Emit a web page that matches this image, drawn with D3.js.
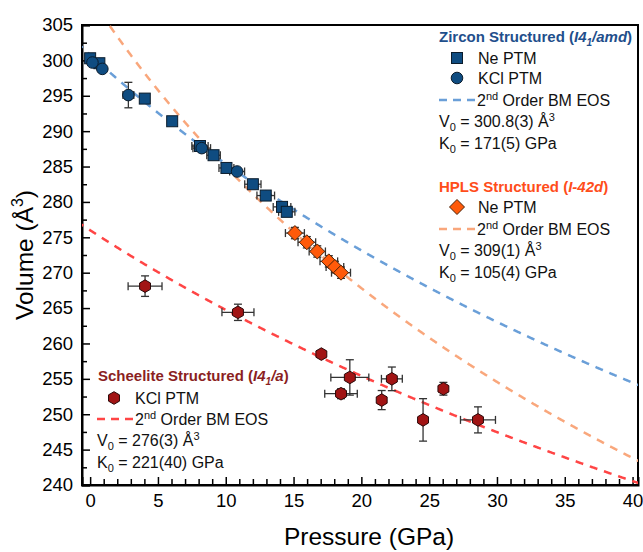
<!DOCTYPE html>
<html>
<head>
<meta charset="utf-8">
<script src="https://cdn.jsdelivr.net/npm/d3@7"></script>
<style>
  body { margin: 0; background: #fff; }
  svg { display: block; font-family: Arial, "Liberation Sans", sans-serif; }
</style>
</head>
<body>
<svg id="chart" width="643" height="552"></svg>
<script>
// Unit-cell volume vs pressure: [P (GPa), V (Å^3), dP, dV]
const zirconNe = [
  [0.0, 300.3, 0.2, 0.3], [0.68, 299.6, 0.2, 0.3], [4.03, 294.6, 0.3, 0.3],
  [6.05, 291.4, 0.3, 0.3], [8.1, 287.9, 0.6, 0.4], [9.1, 286.6, 0.5, 0.4],
  [10.05, 284.8, 0.55, 0.4], [12.0, 282.5, 0.6, 0.4], [12.95, 280.9, 0.65, 0.4],
  [14.15, 279.3, 0.65, 0.4], [14.5, 278.6, 0.6, 0.4]
];
const zirconKCl = [
  [0.17, 299.7, 0.2, 0.3], [0.9, 298.8, 0.2, 0.3], [2.82, 295.1, 0.4, 1.8],
  [8.23, 287.6, 0.65, 0.4], [10.84, 284.3, 0.55, 0.4]
];
const hplsNe = [
  [15.1, 275.6, 0.7, 0.8], [15.98, 274.3, 0.65, 0.8], [16.75, 273.0, 0.6, 0.8],
  [17.6, 271.6, 0.65, 0.8], [18.05, 270.8, 0.65, 0.8], [18.5, 270.0, 0.7, 0.8]
];
const scheeliteKCl = [
  [4.05, 268.1, 1.25, 1.45], [10.9, 264.4, 1.18, 1.15], [17.05, 258.5, 0.3, 0.4],
  [19.15, 255.2, 1.4, 2.5], [18.5, 252.9, 1.2, 0.7], [21.5, 252.0, 0.3, 1.35],
  [22.25, 255.0, 0.77, 1.67], [24.55, 249.2, 0.3, 3.0], [26.05, 253.6, 0.3, 0.9],
  [28.6, 249.2, 1.29, 1.84]
];

// 2nd order Birch-Murnaghan fits: zircon, HPLS, scheelite
const eosNames = ["zircon", "hpls", "scheelite"];
const eosV0 = [300.8, 309, 276];
const eosK0 = [171, 105, 221];

const xTicks = [0, 5, 10, 15, 20, 25, 30, 35, 40];
const yTicks = [240, 245, 250, 255, 260, 265, 270, 275, 280, 285, 290, 295, 300, 305];

const colors = {
  zirconMark: "#0f4c81", zirconText: "#1f4f8c", zirconLine: "#6a9fd8",
  hplsMark: "#ff5a0a", hplsText: "#ff4d1a", hplsLine: "#f9a77c",
  scheeliteMark: "#a11414", scheeliteText: "#8b1f1f", scheeliteLine: "#ff4545"
};

const svg = d3.select("#chart");
const plotLeft = 82, plotRight = 638, plotTop = 25, plotBottom = 485;

const x = d3.scaleLinear().domain([-0.6, 40.4]).range([plotLeft, plotRight]);
const y = d3.scaleLinear().domain([240, 305]).range([plotBottom, plotTop]);

svg.append("defs").append("clipPath").attr("id", "plotClip")
  .append("rect").attr("x", plotLeft).attr("y", plotTop)
  .attr("width", plotRight - plotLeft).attr("height", plotBottom - plotTop);

// frame
svg.append("rect").attr("x", plotLeft).attr("y", plotTop)
  .attr("width", plotRight - plotLeft).attr("height", plotBottom - plotTop)
  .attr("fill", "none").attr("stroke", "#000").attr("stroke-width", 2);

// axes with inward ticks
const minorX = d3.range(0, 41, 1).filter(d => d % 5 !== 0);
const minorY = d3.range(242.5, 305, 5);

svg.append("g").attr("transform", `translate(0,${plotBottom})`)
  .call(d3.axisBottom(x).tickValues(xTicks).tickSize(-8).tickPadding(9).tickFormat(d3.format("d")));
svg.append("g").attr("transform", `translate(0,${plotBottom})`)
  .call(d3.axisBottom(x).tickValues(minorX).tickSize(-6).tickFormat(""))
  .select(".domain").remove();

svg.append("g").attr("transform", `translate(${plotLeft},0)`)
  .call(d3.axisLeft(y).tickValues(yTicks).tickSize(-8).tickPadding(9).tickFormat(d3.format("d")));
svg.append("g").attr("transform", `translate(${plotLeft},0)`)
  .call(d3.axisLeft(y).tickValues(minorY).tickSize(-5).tickFormat(""))
  .select(".domain").remove();

svg.selectAll(".domain").attr("stroke-width", 2);
svg.selectAll(".tick line").attr("stroke-width", 1.5);
svg.selectAll(".tick text").attr("font-size", 18.5).attr("fill", "#000")
  .attr("font-family", "Arial, 'Liberation Sans', sans-serif");

// axis titles
svg.append("text").attr("x", 369).attr("y", 545).attr("text-anchor", "middle")
  .attr("font-size", 24.5).text("Pressure (GPa)");
const yt = svg.append("text").attr("transform", "translate(33,255) rotate(-90)")
  .attr("text-anchor", "middle").attr("font-size", 24.5);
yt.append("tspan").text("Volume (Å");
yt.append("tspan").attr("dy", -10).attr("font-size", 16).text("3");
yt.append("tspan").attr("dy", 10).text(")");

// EOS curves
function bm2(V, V0, K0) {
  const r = V0 / V;
  return 1.5 * K0 * (Math.pow(r, 7 / 3) - Math.pow(r, 5 / 3));
}
const lineColors = [colors.zirconLine, colors.hplsLine, colors.scheeliteLine];
const volGrid = d3.range(230, 312, 0.05);
const curveG = svg.append("g").attr("clip-path", "url(#plotClip)");
eosNames.forEach((name, i) => {
  const pts = volGrid.map(V => [bm2(V, eosV0[i], eosK0[i]), V])
    .filter(d => d[0] >= -1 && d[0] <= 41)
    .sort((a, b) => a[0] - b[0]);
  curveG.append("path").datum(pts)
    .attr("d", d3.line().x(d => x(d[0])).y(d => y(d[1])))
    .attr("fill", "none").attr("stroke", lineColors[i])
    .attr("stroke-width", 2.5).attr("stroke-dasharray", "8,7");
});

// error bars
const errG = svg.append("g").attr("stroke", "#333").attr("stroke-width", 1.3).attr("fill", "none");
function errorBars(data) {
  const cap = 4;
  data.forEach(([p, v, dp, dv]) => {
    const cx = x(p), cy = y(v);
    const x0 = x(p - dp), x1 = x(p + dp), y0 = y(v - dv), y1 = y(v + dv);
    errG.append("line").attr("x1", x0).attr("x2", x1).attr("y1", cy).attr("y2", cy);
    errG.append("line").attr("x1", x0).attr("x2", x0).attr("y1", cy - cap).attr("y2", cy + cap);
    errG.append("line").attr("x1", x1).attr("x2", x1).attr("y1", cy - cap).attr("y2", cy + cap);
    errG.append("line").attr("x1", cx).attr("x2", cx).attr("y1", y0).attr("y2", y1);
    errG.append("line").attr("x1", cx - cap).attr("x2", cx + cap).attr("y1", y0).attr("y2", y0);
    errG.append("line").attr("x1", cx - cap).attr("x2", cx + cap).attr("y1", y1).attr("y2", y1);
  });
}
[zirconNe, zirconKCl, hplsNe, scheeliteKCl].forEach(errorBars);

// marker shapes
function square(g, cx, cy, fill) {
  g.append("rect").attr("x", cx - 5.5).attr("y", cy - 5.5).attr("width", 11).attr("height", 11)
    .attr("fill", fill).attr("stroke", "#0b1c2c").attr("stroke-width", 1);
}
function circle(g, cx, cy, fill) {
  g.append("circle").attr("cx", cx).attr("cy", cy).attr("r", 5.8)
    .attr("fill", fill).attr("stroke", "#0b1c2c").attr("stroke-width", 1);
}
function diamond(g, cx, cy, fill) {
  const s = 7.5;
  g.append("path").attr("d", `M${cx},${cy - s}L${cx + s},${cy}L${cx},${cy + s}L${cx - s},${cy}Z`)
    .attr("fill", fill).attr("stroke", "#4a2208").attr("stroke-width", 1);
}
function hexagon(g, cx, cy, fill) {
  const r = 6.3;
  const pts = d3.range(6).map(k => {
    const a = (-90 + 60 * k) * Math.PI / 180;
    return [cx + r * Math.cos(a), cy + r * Math.sin(a)];
  });
  g.append("path").attr("d", "M" + pts.join("L") + "Z")
    .attr("fill", fill).attr("stroke", "#2a0808").attr("stroke-width", 1);
}

const markG = svg.append("g");
zirconNe.forEach(d => square(markG, x(d[0]), y(d[1]), colors.zirconMark));
zirconKCl.forEach(d => circle(markG, x(d[0]), y(d[1]), colors.zirconMark));
hplsNe.forEach(d => diamond(markG, x(d[0]), y(d[1]), colors.hplsMark));
scheeliteKCl.forEach(d => hexagon(markG, x(d[0]), y(d[1]), colors.scheeliteMark));

// legends
const leg = svg.append("g").attr("font-size", 16).attr("fill", "#111");

function title(xp, yp, name, italicParts, color) {
  const t = leg.append("text").attr("x", xp).attr("y", yp).attr("font-size", 15)
    .attr("font-weight", "bold").attr("fill", color);
  t.append("tspan").text(name + " (");
  let shifted = false;
  italicParts.forEach(([txt, sub]) => {
    const s = t.append("tspan").attr("font-style", "italic").text(txt);
    if (sub) { s.attr("font-size", 10).attr("dy", 4); shifted = true; }
    else if (shifted) { s.attr("dy", -4); shifted = false; }
  });
  t.append("tspan").text(")");
}
function eosEntry(xp, yp, color) {
  leg.append("line").attr("x1", xp).attr("x2", xp + 36).attr("y1", yp).attr("y2", yp)
    .attr("stroke", color).attr("stroke-width", 2.5).attr("stroke-dasharray", "8,6");
  const t = leg.append("text").attr("x", xp + 38).attr("y", yp + 6);
  t.append("tspan").text("2");
  t.append("tspan").attr("font-size", 11).attr("dy", -6).text("nd");
  t.append("tspan").attr("dy", 6).text(" Order BM EOS");
}
function paramV(xp, yp, val) {
  const t = leg.append("text").attr("x", xp).attr("y", yp);
  t.append("tspan").text("V");
  t.append("tspan").attr("font-size", 11).attr("dy", 4).text("0");
  t.append("tspan").attr("dy", -4).text(" = " + val + " Å");
  t.append("tspan").attr("font-size", 11).attr("dy", -6).text("3");
}
function paramK(xp, yp, val) {
  const t = leg.append("text").attr("x", xp).attr("y", yp);
  t.append("tspan").text("K");
  t.append("tspan").attr("font-size", 11).attr("dy", 4).text("0");
  t.append("tspan").attr("dy", -4).text(" = " + val + " GPa");
}

// zircon block
title(439, 42, "Zircon Structured", [["I4", false], ["1", true], ["/amd", false]], colors.zirconText);
square(leg, 457, 58, colors.zirconMark);
leg.append("text").attr("x", 478).attr("y", 63.5).text("Ne PTM");
circle(leg, 457, 78, colors.zirconMark);
leg.append("text").attr("x", 478).attr("y", 83.5).text("KCl PTM");
eosEntry(439, 100, colors.zirconLine);
paramV(439, 127, eosV0[0].toFixed(1) + "(3)");
paramK(439, 149, eosK0[0] + "(5)");

// HPLS block
title(439, 192, "HPLS Structured", [["I-42d", false]], colors.hplsText);
diamond(leg, 457, 207, colors.hplsMark);
leg.append("text").attr("x", 478).attr("y", 212.5).text("Ne PTM");
eosEntry(439, 229, colors.hplsLine);
paramV(439, 256, eosV0[1] + "(1)");
paramK(439, 278, eosK0[1] + "(4)");

// scheelite block
title(98, 381, "Scheelite Structured", [["I4", false], ["1", true], ["/a", false]], colors.scheeliteText);
hexagon(leg, 114, 398, colors.scheeliteMark);
leg.append("text").attr("x", 135).attr("y", 403.5).text("KCl PTM");
eosEntry(97, 419, colors.scheeliteLine);
paramV(97, 446, eosV0[2] + "(3)");
paramK(97, 468, eosK0[2] + "(40)");
</script>
</body>
</html>
